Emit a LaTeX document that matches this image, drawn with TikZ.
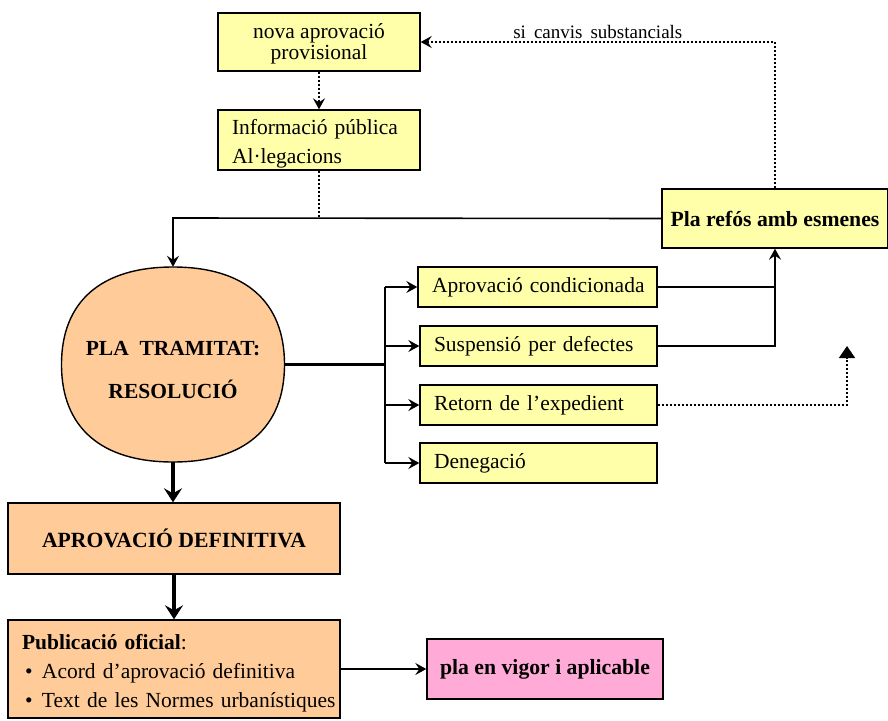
\documentclass[tikz,border=0pt]{standalone}
\usepackage{fontspec}
\setmainfont{Liberation Serif}
\usetikzlibrary{arrows.meta}
\definecolor{ylw}{RGB}{255,255,170}
\definecolor{org}{RGB}{255,204,153}
\definecolor{pnk}{RGB}{255,170,215}
\begin{document}
\begin{tikzpicture}[x=1pt,y=-1pt,
  font=\fontsize{21.5}{22}\selectfont,
  ybox/.style={draw=black,line width=1.4pt,fill=ylw,inner sep=0pt},
  lbox/.style={ybox,inner xsep=14pt,align=left},
  obox/.style={draw=black,line width=1.4pt,fill=org,inner sep=0pt},
  tip/.style={-{Stealth[length=11pt,width=12pt,inset=4pt]}},
  bigtip/.style={-{Stealth[length=14pt,width=18pt,inset=5pt]}},
  conn/.style={line width=1.6pt},
  thickconn/.style={line width=3.2pt},
  dotconn/.style={line width=1.6pt,dash pattern=on 2pt off 2pt},
]
\useasboundingbox (0,0) rectangle (888,720);

% top boxes
\node[ybox,minimum width=202pt,minimum height=58pt] (nova) at (319,42) {};
\node[align=center,inner sep=0pt,font=\fontsize{21.5}{21}\selectfont] (novat) at (319,44) {nova aprovació\\provisional};
\node[ybox,minimum width=202pt,minimum height=60pt] (info) at (319,140) {};
\node[align=left,inner sep=0pt,text width=174pt,font=\fontsize{21.5}{29}\selectfont] (infot) at (319,144) {Informació pública\\Al·legacions};
\node[ybox,minimum width=226pt,minimum height=59pt,font=\fontsize{21.7}{22}\selectfont\bfseries]
  (refos) at (775,218.5) {Pla refós amb esmenes};

% central decision
\node[inner sep=0pt,minimum width=223pt,minimum height=195pt] (pla) at (173,364.5) {};
\draw[line width=1.4pt,fill=org] (284.5,364.5) .. controls (284.5,301.1) and (244.5,267) .. (173,267)
  .. controls (101.5,267) and (61.5,301.1) .. (61.5,364.5)
  .. controls (61.5,427.9) and (101.5,462) .. (173,462)
  .. controls (244.5,462) and (284.5,427.9) .. (284.5,364.5) -- cycle;
\node[align=center,inner sep=0pt,font=\fontsize{21.5}{43}\selectfont\bfseries] (plat) at (173,370) {PLA~ TRAMITAT:\\RESOLUCIÓ};

% options
\node[lbox,text width=211pt,minimum height=40pt] (b1) at (537.5,287) {\mbox{Aprovació condicionada}};
\node[lbox,text width=209pt,minimum height=40pt] (b2) at (538.5,346) {\mbox{Suspensió per defectes}};
\node[lbox,text width=209pt,minimum height=40pt] (b3) at (538.5,405) {\mbox{Retorn de l’expedient}};
\node[lbox,text width=209pt,minimum height=40pt] (b4) at (538.5,463) {\mbox{Denegació}};

% bottom
\node[obox,minimum width=332pt,minimum height=71pt,font=\fontsize{21.7}{22}\selectfont\bfseries]
  (apro) at (174,538.5) {APROVACIÓ DEFINITIVA};
\node[obox,minimum width=332pt,minimum height=98pt] (pub) at (174,669) {};
\node[align=left,inner sep=0pt,text width=320pt,font=\fontsize{21.5}{29}\selectfont] (pubt) at (182,673)
  {\mbox{\textbf{Publicació oficial}:}\\
   \mbox{\hspace*{3pt}\makebox[17pt][l]{\textbullet}Acord d’aprovació definitiva}\\
   \mbox{\hspace*{3pt}\makebox[17pt][l]{\textbullet}Text de les Normes urbanístiques}};
\node[draw=black,line width=1.4pt,fill=pnk,minimum width=236pt,minimum height=60pt,inner sep=0pt,
  font=\fontsize{21.7}{22}\selectfont\bfseries] (vigor) at (545,669) {pla en vigor i aplicable};

% coordinates
\coordinate (j1) at (319,218);
\coordinate (c1) at (173,218);
\coordinate (top) at (775,42);
\coordinate (bus) at (385,364.5);
\coordinate (bt) at (385,287);
\coordinate (bb) at (385,463);
\coordinate (m1) at (775,287);
\coordinate (r3) at (847,405);
\coordinate (r3e) at (847,346);

% connectors
\draw[dotconn,tip] (nova.south) -- (info.north);
\draw[dotconn] (info.south) -- (j1);
\draw[conn,tip] (refos.west) -- (c1) -- (pla.north);
\draw[dotconn,tip] (refos.north) -- (top) -- (nova.east)
  node[pos=0.5,above=-1pt,font=\fontsize{19}{20}\selectfont] {si\hspace{8pt}canvis\hspace{8pt}substancials};

\draw[thickconn] (pla.east) -- (bus);
\draw[conn] (bt) -- (bb);
\draw[conn,tip] (bt) -- (b1.west);
\draw[conn,tip] (bus |- b2.west) -- (b2.west);
\draw[conn,tip] (bus |- b3.west) -- (b3.west);
\draw[conn,tip] (bb) -- (b4.west);

\draw[conn] (b1.east) -- (m1);
\draw[conn,tip] (b2.east) -| (refos.south);
\draw[dotconn,-{Triangle[length=12pt,width=16pt]}] (b3.east) -- (r3) -- (r3e);

\draw[thickconn,bigtip] (pla.south) -- (pla.south |- apro.north);
\draw[thickconn,bigtip] (apro.south) -- (pub.north);
\draw[conn,tip] (pub.east) -- (vigor.west);
\end{tikzpicture}
\end{document}
